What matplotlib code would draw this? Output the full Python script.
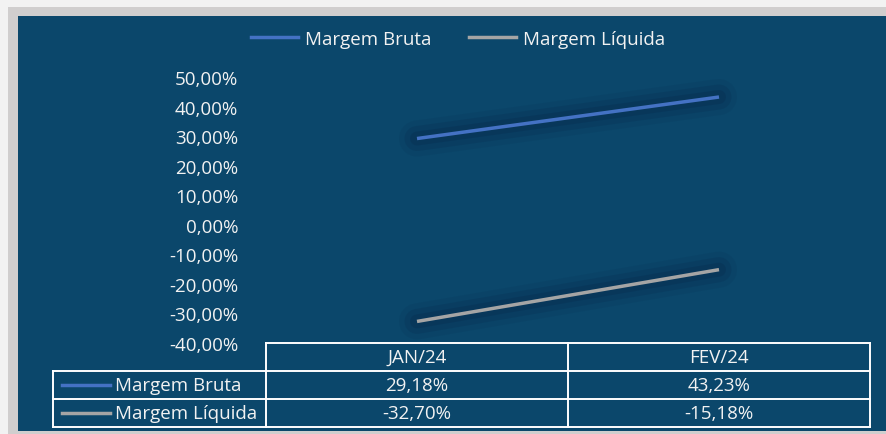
#!/usr/bin/env python3

import matplotlib
matplotlib.use('Agg')
import matplotlib.pyplot as plt
import matplotlib.patheffects as pe
from matplotlib.patches import Rectangle
from matplotlib.lines import Line2D

#-----------------------------------------------------------------------------#
# data

months = ['JAN/24', 'FEV/24']
margem_bruta = [29.18, 43.23]
margem_liquida = [-32.70, -15.18]
series_names = ['Margem Bruta', 'Margem Líquida']
y_ticks = [-40, -30, -20, -10, 0, 10, 20, 30, 40, 50]

#-----------------------------------------------------------------------------#
# style

W, H = 886, 435
BG = '#0b476b'
TXT = '#f2f2f2'
COLORS = ['#4472c4', '#a5a5a5']
FONT = 'Open Sans'
FS = 13.5

def pct(v):
    return ('%.2f%%' % v).replace('.', ',')

def fx(px):
    return px / W

def fy(py):
    return 1 - py / H

#-----------------------------------------------------------------------------#
# figure

fig = plt.figure(figsize=(W / 100, H / 100), dpi=100, facecolor='#f2f2f2')
fig.patches.append(Rectangle((fx(8), fy(435)), 1, fy(8) - fy(435), transform=fig.transFigure,
                             facecolor='#d0cece', edgecolor='none', zorder=-2))
fig.patches.append(Rectangle((fx(18), fy(432)), 1, fy(17) - fy(432), transform=fig.transFigure,
                             facecolor=BG, edgecolor='none', zorder=-1))

# plot area
left, right, top, bottom = 266, 870, 78, 344
ax = fig.add_axes([fx(left), fy(bottom), fx(right - left), fy(top) - fy(bottom)])
ax.set_facecolor('none')
ax.set_xlim(-0.5, len(months) - 0.5)
ax.set_ylim(-40, 50)
for s in ax.spines.values():
    s.set_visible(False)
ax.set_xticks([])
ax.set_yticks(y_ticks)
ax.set_yticklabels([pct(t) for t in y_ticks], fontfamily=FONT, fontsize=FS, color=TXT)
ax.tick_params(axis='y', length=0, pad=20)

# soft dark glow under each line
shadow_col = '#041d3f'
shadow = [pe.Stroke(linewidth=26, foreground=shadow_col, alpha=0.08, capstyle='round'),
          pe.Stroke(linewidth=18, foreground=shadow_col, alpha=0.14, capstyle='round'),
          pe.Stroke(linewidth=10, foreground=shadow_col, alpha=0.18, capstyle='round'),
          pe.Normal()]

xs = list(range(len(months)))
for vals, c in zip([margem_bruta, margem_liquida], COLORS):
    ax.plot(xs, vals, color=c, linewidth=2.5, solid_capstyle='butt',
            path_effects=shadow, clip_on=False)

#-----------------------------------------------------------------------------#
# legend

handles = [Line2D([], [], color=c, linewidth=2.5) for c in COLORS]
fig.legend(handles, series_names, loc='center', bbox_to_anchor=(fx(458), fy(40)), ncol=2,
           frameon=False, prop={'family': FONT, 'size': FS}, labelcolor=TXT,
           handlelength=2.5, handletextpad=0.4, columnspacing=2.0)

#-----------------------------------------------------------------------------#
# data table

row_y = [344, 372, 400, 428]
col_x = [53, 266, 568, 870]
lw = 1.4
line_kw = dict(color='white', linewidth=lw, transform=fig.transFigure)

# horizontal lines
fig.add_artist(Line2D([fx(col_x[1]), fx(col_x[3])], [fy(row_y[0])] * 2, **line_kw))
for ry in row_y[1:]:
    fig.add_artist(Line2D([fx(col_x[0]), fx(col_x[3])], [fy(ry)] * 2, **line_kw))
# vertical lines
fig.add_artist(Line2D([fx(col_x[0])] * 2, [fy(row_y[1]), fy(row_y[3])], **line_kw))
for cx in col_x[1:]:
    fig.add_artist(Line2D([fx(cx)] * 2, [fy(row_y[0]), fy(row_y[3])], **line_kw))

txt_kw = dict(fontfamily=FONT, fontsize=FS, color=TXT, va='center')
for j, m in enumerate(months):
    cx = (col_x[j + 1] + col_x[j + 2]) / 2
    fig.text(fx(cx), fy((row_y[0] + row_y[1]) / 2), m, ha='center', **txt_kw)

for i, (name, vals, c) in enumerate(zip(series_names, [margem_bruta, margem_liquida], COLORS)):
    cy = (row_y[i + 1] + row_y[i + 2]) / 2
    fig.add_artist(Line2D([fx(62), fx(110)], [fy(cy)] * 2, color=c, linewidth=2.5,
                          transform=fig.transFigure))
    fig.text(fx(115), fy(cy), name, ha='left', **txt_kw)
    for j, v in enumerate(vals):
        cx = (col_x[j + 1] + col_x[j + 2]) / 2
        fig.text(fx(cx), fy(cy), pct(v), ha='center', **txt_kw)

fig.savefig('out.png', dpi=100, facecolor=fig.get_facecolor())
